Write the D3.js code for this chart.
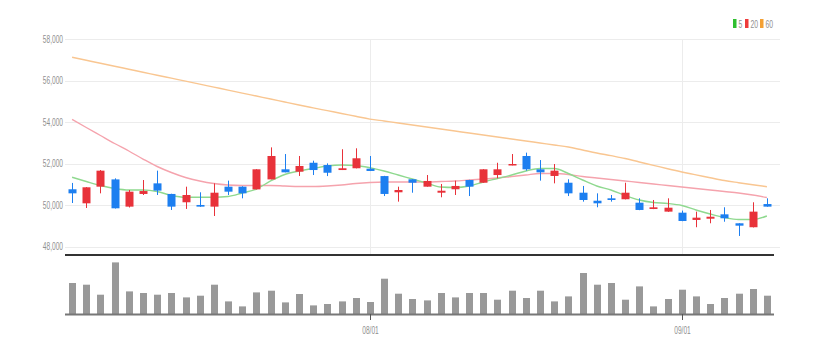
<!DOCTYPE html>
<html>
<head>
<meta charset="utf-8">
<script src="https://cdn.jsdelivr.net/npm/d3@7"></script>
<style>
  html, body { margin: 0; padding: 0; background: #fff; }
  #chart { width: 817px; height: 354px; }
  text { font-family: "Liberation Sans", Arial, sans-serif; fill: #909090; }
</style>
</head>
<body>
<div id="chart"></div>
<script>
// trading days shown (Jul 3 - Sep 11)
const dates = [
  "07/03","07/04","07/05","07/06","07/07","07/10","07/11","07/12","07/13","07/14",
  "07/17","07/18","07/19","07/20","07/21","07/24","07/25","07/26","07/27","07/28",
  "07/31","08/01","08/02","08/03","08/04","08/07","08/08","08/09","08/10","08/11",
  "08/14","08/16","08/17","08/18","08/21","08/22","08/23","08/24","08/25","08/28",
  "08/29","08/30","08/31","09/01","09/04","09/05","09/06","09/07","09/08","09/11"
];
const xTickLabels = ["08/01", "09/01"];

const open  = [50775,50100,50900,51250,49940,50550,51060,50550,50150,50020,
               49940,50900,50900,50770,51250,51735,51620,52050,51940,51700,
               51785,51765,51410,50630,51255,50900,50610,50775,51220,51090,
               51460,51930,52375,51735,51415,51090,50610,50225,50340,50295,
               50130,49826,49700,49650,49300,49360,49570,49140,48950,50065];
const close = [50580,50870,51670,49860,50660,50690,50710,49940,50500,49940,
               50610,50660,50580,51735,52375,51590,51895,51700,51570,51785,
               52265,51655,50550,50740,51090,51175,50705,50935,50900,51735,
               51735,51990,51735,51590,51670,50580,50260,50100,50260,50610,
               49780,49908,49890,49250,49410,49455,49380,49025,49700,49940];
const high  = [51080,50880,51700,51300,50740,51220,51670,50560,50900,50630,
               51060,51190,50920,51740,52790,52470,52375,52150,52020,52700,
               52745,52375,51420,50900,51260,51460,51030,51190,51230,51740,
               52050,52470,52535,52180,51990,51255,50935,50580,50500,51090,
               50340,50260,50340,49750,49700,49780,49910,49140,50150,50340];
const low   = [50115,49875,50580,49850,49900,50500,50500,49780,49830,49930,
               49490,50500,50340,50770,51250,51590,51415,51460,51410,51700,
               51780,51650,50450,50180,50610,50900,50390,50500,50450,51090,
               51300,51925,51670,51190,51060,50450,50180,49910,50180,50290,
               49770,49820,49690,49240,48950,49140,49215,48530,48940,49935];

const ma5  = [51351,51149,50956,50812,50740,50740,50668,50476,50389,50389,
              50389,50428,50596,50788,51173,51485,51654,51774,51894,51942,
              51918,51812,51654,51461,51269,51077,50884,50860,50932,51125,
              51293,51461,51654,51774,51774,51533,51221,50932,50740,50476,
              50259,50139,50091,49995,49779,49586,49418,49322,49322,49490];
const ma20 = [54139,53745,53360,52976,52615,52230,51870,51581,51341,51173,
              51052,50980,50956,50956,50956,50932,50908,50908,50932,50980,
              51052,51101,51125,51125,51125,51125,51149,51173,51221,51269,
              51317,51389,51461,51533,51533,51485,51389,51317,51245,51173,
              51101,51028,50956,50884,50812,50740,50668,50596,50500,50380];
const ma60 = [57120,56977,56834,56690,56547,56404,56260,56117,55974,55830,
              55687,55544,55400,55257,55114,54970,54827,54690,54555,54420,
              54285,54150,54055,53960,53864,53768,53672,53576,53480,53384,
              53288,53192,53096,53000,52904,52807,52663,52519,52390,52255,
              52086,51927,51760,51605,51470,51331,51197,51091,50990,50899];

// volume, thousand shares
const volume = [310,293,193,516,226,210,193,210,166,183,
                293,126,76,216,233,116,200,86,100,126,
                160,120,353,203,150,136,210,166,210,210,
                143,233,160,233,126,176,410,293,310,143,
                276,76,150,243,176,100,160,203,250,183];

const priceTicks = [48000, 50000, 52000, 54000, 56000, 58000];
const maNames = ["5", "20", "60"];
const maColors = ["#8fd98f", "#f5a3ad", "#f9c691"];

const width = 817, height = 354;
const left = 65, right = 774;
const priceTop = 39, priceBottom = 255;
const volTop = 258, volBottom = 314;

const svg = d3.select("#chart").append("svg")
  .attr("width", width).attr("height", height);

const x = d3.scaleBand().domain(dates).range([left, right]).paddingInner(0);
const cx = d => x(d) + x.bandwidth() / 2;

// 58,000 at top edge, 48,000 a bit above the pane bottom
const y = d3.scaleLinear().domain([47615, 58000]).range([priceBottom, priceTop]);
const yv = d3.scaleLinear().domain([0, 560]).range([volBottom, volTop]);

// horizontal grid + labels
svg.append("g").selectAll("line")
  .data(priceTicks).join("line")
  .attr("x1", left).attr("x2", 780)
  .attr("y1", d => Math.round(y(d)) + 0.5).attr("y2", d => Math.round(y(d)) + 0.5)
  .attr("stroke", "#ececec");

svg.append("g").selectAll("text")
  .data(priceTicks).join("text")
  .attr("transform", d => `translate(63,${y(d) + 3.5}) scale(0.66,1)`)
  .attr("text-anchor", "end")
  .attr("font-size", 10)
  .text(d => d3.format(",")(d));

// vertical grid at month starts
svg.append("g").selectAll("line")
  .data(xTickLabels).join("line")
  .attr("x1", d => Math.round(cx(d)) + 0.5).attr("x2", d => Math.round(cx(d)) + 0.5)
  .attr("y1", priceTop).attr("y2", priceBottom)
  .attr("stroke", "#ececec");

// moving averages
const maLine = d3.line()
  .x((d, i) => cx(dates[i]))
  .y(d => y(d))
  .curve(d3.curveMonotoneX);

[ma60, ma20, ma5].forEach((arr, k) => {
  svg.append("path")
    .datum(arr)
    .attr("fill", "none")
    .attr("stroke", maColors[2 - k])
    .attr("stroke-width", 1.4)
    .attr("d", maLine);
});

// candles
const up = "#e8323a", down = "#1d7ff0";
const candles = svg.append("g").selectAll("g")
  .data(dates).join("g");

candles.append("line")
  .attr("x1", d => Math.round(cx(d)) + 0.5).attr("x2", d => Math.round(cx(d)) + 0.5)
  .attr("y1", (d, i) => y(high[i])).attr("y2", (d, i) => y(low[i]))
  .attr("stroke", (d, i) => close[i] >= open[i] ? up : down);

candles.append("rect")
  .attr("x", d => Math.round(cx(d)) - 3.5)
  .attr("width", 8)
  .attr("y", (d, i) => y(Math.max(open[i], close[i])))
  .attr("height", (d, i) => Math.max(1.5, Math.abs(y(open[i]) - y(close[i]))))
  .attr("fill", (d, i) => close[i] >= open[i] ? up : down);

// pane separator
svg.append("line")
  .attr("x1", left).attr("x2", right)
  .attr("y1", priceBottom).attr("y2", priceBottom)
  .attr("stroke", "#333").attr("stroke-width", 2);

// volume bars
svg.append("g").selectAll("rect")
  .data(volume).join("rect")
  .attr("x", (d, i) => Math.round(cx(dates[i])) - 3)
  .attr("width", 7)
  .attr("y", d => yv(d))
  .attr("height", d => volBottom - yv(d))
  .attr("fill", "#999");

svg.append("line")
  .attr("x1", left).attr("x2", right)
  .attr("y1", volBottom + 0.5).attr("y2", volBottom + 0.5)
  .attr("stroke", "#777").attr("stroke-width", 2);

// x ticks
const xt = svg.append("g").selectAll("g")
  .data(xTickLabels).join("g")
  .attr("transform", d => `translate(${Math.round(cx(d)) + 0.5},0)`);
xt.append("line")
  .attr("y1", volBottom).attr("y2", volBottom + 6)
  .attr("stroke", "#555");
xt.append("text")
  .attr("transform", `translate(0,${volBottom + 20}) scale(0.66,1)`)
  .attr("text-anchor", "middle")
  .attr("font-size", 10)
  .text(d => d);

// legend
const legend = svg.append("g").attr("transform", "translate(733,19)");
let lx = 0;
maNames.forEach((name, k) => {
  legend.append("rect")
    .attr("x", lx).attr("y", 0)
    .attr("width", 3.5).attr("height", 9)
    .attr("fill", ["#2fbf2f", "#ee3b3b", "#f4a033"][k]);
  legend.append("text")
    .attr("transform", `translate(${lx + 5.5},8.8) scale(0.62,1)`)
    .attr("font-size", 11)
    .text(name);
  lx += name.length === 1 ? 12 : 15;
});
</script>
</body>
</html>
